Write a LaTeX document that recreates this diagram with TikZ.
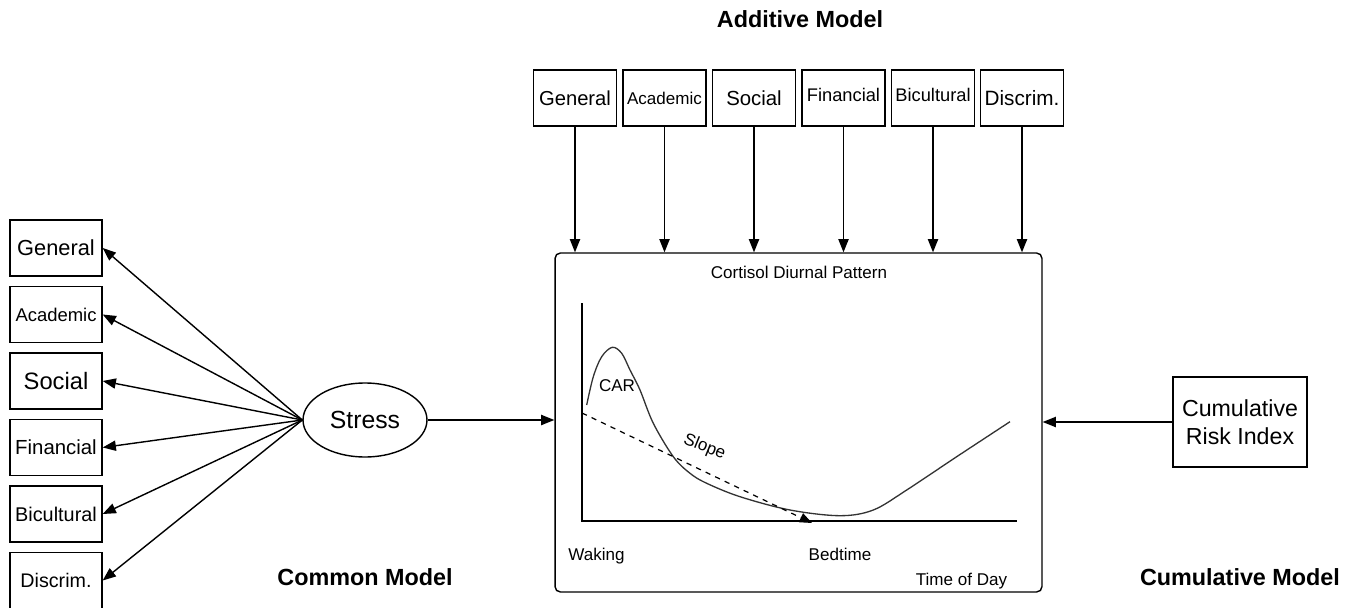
\documentclass[tikz,border=0pt]{standalone}
\usepackage{fontspec}
\setmainfont{Liberation Sans}
\usetikzlibrary{arrows.meta,shapes.geometric}
\newcommand{\fsz}[1]{\fontsize{#1}{1.2\dimexpr#1\relax}\selectfont}

\begin{document}
\begin{tikzpicture}[x=0.02cm, y=-0.02cm]
        \tikzstyle{every node}=[inner sep=0pt, align=center]
        \tikzstyle{lbox}=[draw, line width=0.8pt, minimum width=1.84cm, minimum height=1.12cm]
        \tikzstyle{tbox}=[draw, line width=0.8pt, minimum width=1.66cm, minimum height=1.12cm]
        \tikzstyle{arr}=[line width=0.8pt, -{Triangle[length=7.5pt, width=5.8pt]}]
        \tikzstyle{title}=[font=\fsz{13.3pt}\bfseries, text height=1.5ex, text depth=0.25ex]
        \tikzstyle{small}=[font=\fsz{9.7pt}, text height=1.5ex, text depth=0.25ex]
        \useasboundingbox (0,0) rectangle (1353,608);

        \node [title] (additive) at (800,22) {Additive Model};
        \node [title] (common) at (365,580) {Common Model};
        \node [title] (cumulative) at (1240,580) {Cumulative Model};

        \node [lbox, font=\fsz{12.4pt}] (l1) at (56,248) {General};
        \node [lbox, font=\fsz{10.5pt}] (l2) at (56,314.5) {Academic};
        \node [lbox, font=\fsz{13.5pt}] (l3) at (56,381) {Social};
        \node [lbox, font=\fsz{11.6pt}] (l4) at (56,447.5) {Financial};
        \node [lbox, font=\fsz{11.3pt}] (l5) at (56,514) {Bicultural};
        \node [lbox, font=\fsz{11.2pt}] (l6) at (56,580.5) {Discrim.};

        \node [draw, ellipse, line width=0.8pt, minimum width=2.48cm, minimum height=1.48cm, font=\fsz{14.1pt}] (stress) at (365,420) {Stress};
        \foreach \i in {1,...,6}
            \draw [arr] (stress.west) -- (l\i.east);

        \node [draw, line width=0.8pt, rounded corners=3pt, minimum width=9.74cm, minimum height=6.78cm] (pattern) at (798.5,422.5) {};
        \draw [arr] (stress.east) -- (stress.east -| pattern.west);

        \node [tbox, font=\fsz{11.5pt}] (t1) at (575,98) {General};
        \node [tbox, font=\fsz{9.7pt}] (t2) at (664.5,98) {Academic};
        \node [tbox, font=\fsz{11.6pt}] (t3) at (754,98) {Social};
        \node [tbox, font=\fsz{10.4pt}] (t4) at (843.5,98) {\raisebox{3pt}{Financial}};
        \node [tbox, font=\fsz{10.4pt}] (t5) at (933,98) {\raisebox{3pt}{Bicultural}};
        \node [tbox, font=\fsz{11.8pt}] (t6) at (1022,98) {Discrim.};
        \foreach \i in {1,...,6}
            \draw [arr] (t\i.south) -- (t\i.south |- pattern.north);

        \node [draw, line width=0.8pt, minimum width=2.68cm, minimum height=1.8cm, font=\fsz{13.2pt}] (risk) at (1240,422) {Cumulative\\Risk Index};
        \draw [arr] (risk.west) -- (risk.west -| pattern.east);

        \node [small] (ptitle) at (799,273) {Cortisol Diurnal Pattern};
        \coordinate (origin) at (582,521);
        \draw [line width=1pt] (582,303) -- (origin) -- (1017,521);
        \draw [line width=0.75pt, black!80] plot [smooth, tension=0.55] coordinates {(586.7,405) (593.3,376.7) (601.7,356.7) (612.3,347.3) (621.7,353.3) (630,370) (640,390) (653.3,423.3) (673.3,456.7) (690,473.3) (706.7,483.3) (740,496.7) (790,510) (840,515.7) (873.3,510) (906.7,490) (956.7,456.7) (1010,421.7)};
        \coordinate (s0) at (582,413);
        \coordinate (s1) at (812,523);
        \draw [line width=0.7pt, dashed, -{Triangle[length=7pt, width=5.5pt]}] (s0) -- (s1);
        \node [small] (car) at (617,386) {CAR};
        \node [small, rotate=-22] (slope) at (705,446) {Slope};
        \node [small] (waking) at (596.5,555) {Waking};
        \node [small] (bedtime) at (840,555) {Bedtime};
        \node [small] (tod) at (961.5,580) {Time of Day};
\end{tikzpicture}
\end{document}
